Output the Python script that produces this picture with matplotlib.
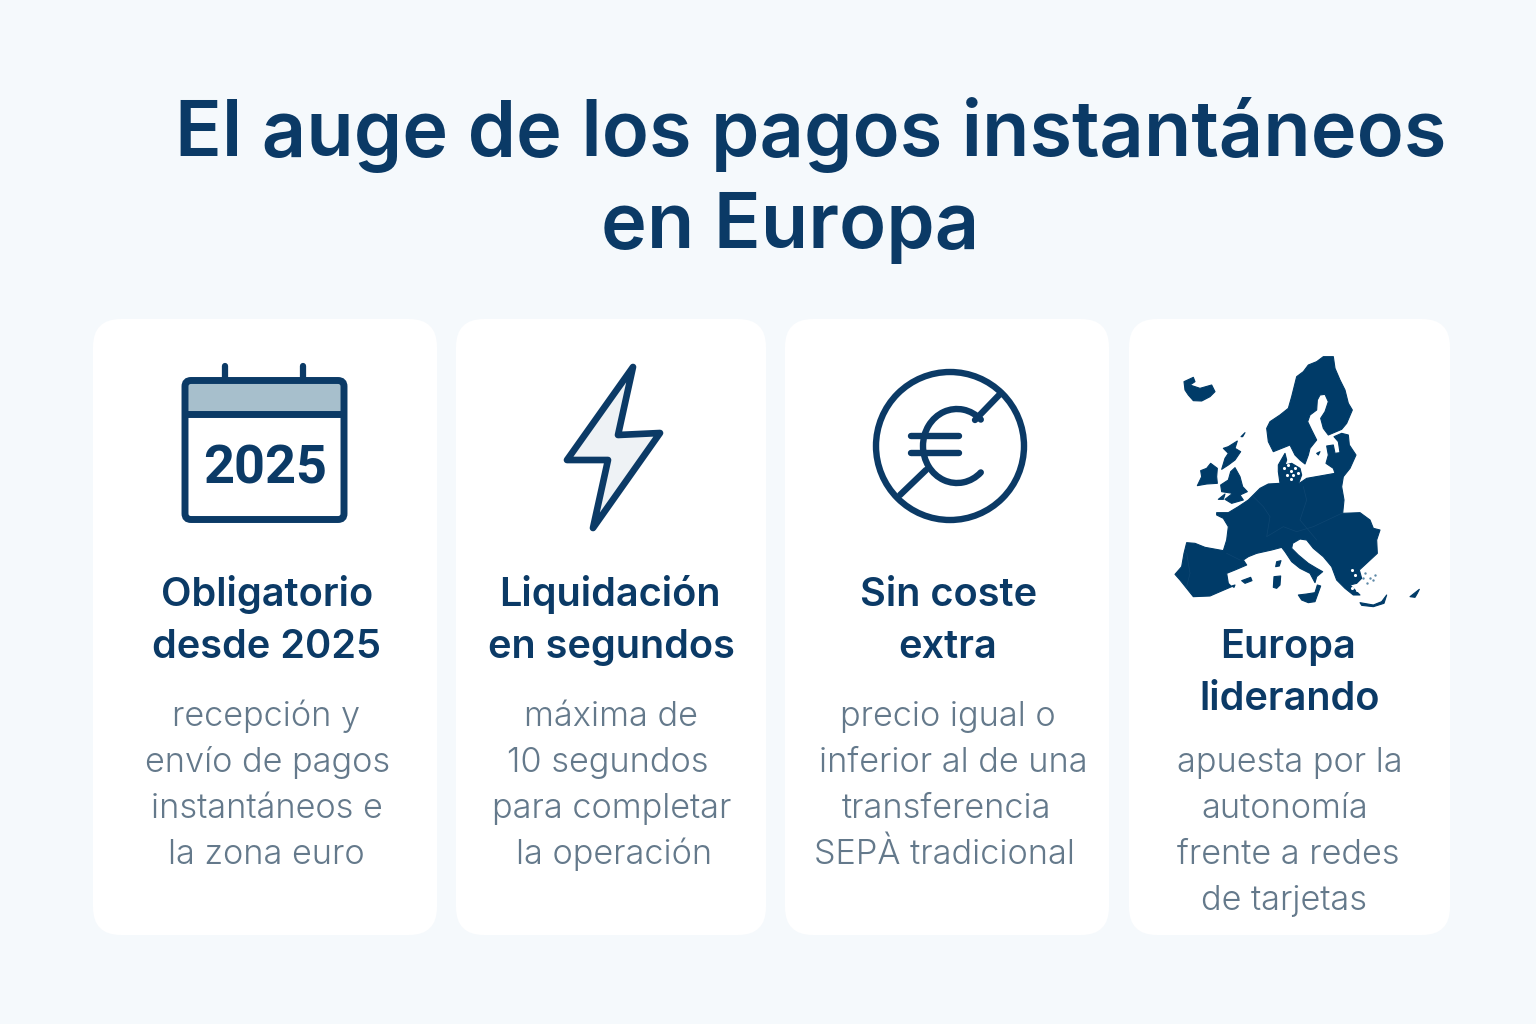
import matplotlib
matplotlib.use("Agg")
import matplotlib.pyplot as plt
from matplotlib.patches import FancyBboxPatch, Polygon, Circle, Arc, Rectangle

NAVY = "#0b3a66"
BG = "#f5f9fc"
GREY = "#64798b"

plt.rcParams["font.family"] = ["Inter", "DejaVu Sans"]

title_lines = ["El auge de los pagos instantáneos", "en Europa"]
title_x = [811, 790]
title_y = [156, 248]

# left, right of each card
card_left = [93, 456, 785, 1129]
card_right = [437, 766, 1109, 1450]

headings = [
    ["Obligatorio", "desde 2025"],
    ["Liquidación", "en segundos"],
    ["Sin coste", "extra"],
    ["Europa", "liderando"],
]
heading_x = [[267, 267], [610, 611], [949, 948], [1288, 1290]]
heading_y = [[606, 658], [606, 658], [606, 658], [658, 710]]

bodies = [
    ["recepción y", "envío de pagos", "instantáneos e", "la zona euro"],
    ["máxima de", "10 segundos", "para completar", "la operación"],
    ["precio igual o", "inferior al de una", "transferencia", "SEPÀ tradicional"],
    ["apuesta por la", "autonomía", "frente a redes", "de tarjetas"],
]
body_x = [
    [266, 268, 267, 266],
    [611, 608, 612, 614],
    [948, 953, 946, 944],
    [1290, 1285, 1288, 1284],
]
body_y = [
    [726, 772, 818, 864],
    [726, 772, 818, 864],
    [726, 772, 818, 864],
    [772, 818, 864, 910],
]

# icon outlines, in reference pixels
bolt = [(633, 367), (618, 435), (660, 433), (593, 528), (608, 460), (567, 460)]

map_land = [
    # scandinavia
    [(320, 265), (330, 245), (360, 225), (385, 205), (395, 170), (405, 130), (410, 110),
     (430, 95), (445, 75), (470, 65), (490, 50), (520, 50), (525, 85), (540, 120), (555, 150),
     (565, 190), (577, 210), (560, 250), (545, 268), (505, 285), (490, 265), (482, 235),
     (495, 215), (505, 185), (495, 163), (480, 165), (472, 180), (470, 210), (450, 225),
     (443, 245), (455, 270), (470, 300), (450, 325), (445, 345), (435, 372), (420, 360),
     (405, 345), (390, 315), (365, 325), (340, 335), (325, 305)],
    # continent
    [(360, 430), (355, 395), (355, 375), (375, 340), (380, 360), (375, 375), (395, 370),
     (420, 385), (425, 405), (415, 432), (440, 415), (480, 408), (525, 400), (520, 385),
     (498, 370), (505, 345), (500, 318), (520, 315), (525, 340), (540, 338), (535, 305),
     (522, 290), (545, 280), (565, 285), (568, 315), (588, 345), (570, 385), (550, 410),
     (545, 440), (552, 480), (548, 520), (600, 518), (630, 540), (640, 565), (660, 570),
     (650, 600), (652, 640), (625, 665), (598, 690), (605, 715), (590, 730), (570, 735),
     (600, 765), (580, 765), (555, 745), (530, 720), (515, 680), (490, 650), (460, 625),
     (440, 600), (420, 597), (398, 610), (395, 625), (415, 645), (445, 670), (470, 685),
     (488, 695), (470, 710), (465, 728), (450, 700), (420, 685), (395, 665), (375, 635),
     (365, 622), (335, 630), (290, 640), (265, 650), (250, 660), (260, 675), (225, 690),
     (200, 700), (205, 730), (215, 740), (180, 755), (150, 768), (100, 770), (80, 745),
     (60, 720), (45, 703), (65, 680), (72, 640), (80, 608), (105, 610), (135, 622),
     (190, 632), (200, 600), (205, 560), (190, 535), (170, 525), (170, 518), (205, 518),
     (235, 500), (265, 480), (300, 445), (325, 432)],
    # iceland
    [(72, 125), (100, 112), (105, 125), (90, 135), (120, 145), (155, 135), (165, 155),
     (150, 170), (125, 183), (100, 182), (85, 165), (75, 150)],
    # ireland and britain
    [(152, 370), (172, 385), (170, 410), (172, 430), (140, 432), (112, 437), (125, 410),
     (122, 392), (140, 385)],
    [(205, 320), (232, 303), (225, 325), (242, 335), (225, 360), (205, 375), (185, 388),
     (195, 355), (205, 340), (190, 325)],
    [(225, 383), (240, 410), (248, 440), (262, 455), (240, 465), (250, 480), (215, 490),
     (195, 478), (218, 460), (185, 455), (182, 435), (205, 420), (212, 395)],
    [(175, 478), (195, 462), (190, 478)],
    [(243, 290), (255, 278), (248, 290)],
    # mediterranean islands
    [(415, 765), (440, 762), (465, 758), (472, 735), (482, 738), (465, 785), (445, 788), (425, 780)],
    [(342, 710), (362, 708), (360, 735), (350, 745), (340, 742)],
    [(350, 665), (363, 662), (358, 678), (347, 680)],
    [(245, 722), (272, 712), (276, 722), (255, 730)],
    [(215, 738), (225, 735), (222, 742)],
    [(600, 788), (640, 795), (665, 785), (680, 765), (672, 790), (640, 800), (605, 796)],
    [(750, 770), (778, 748), (772, 760), (765, 772)],
    [(470, 340), (480, 335), (475, 345)],
]
map_borders = [
    [(280, 470), (310, 500), (330, 530), (320, 590), (370, 560), (410, 575), (460, 560), (545, 520)],
    [(430, 440), (440, 480), (420, 540), (470, 600)],
    [(200, 640), (240, 660)],
    [(80, 640), (90, 700), (80, 740)],
]
map_specks = [(372, 385), (385, 375), (392, 392), (405, 385), (400, 405), (415, 400), (380, 405),
              (392, 418), (575, 690), (585, 705), (575, 745), (590, 750)]
island_specks = [(615, 700), (630, 715), (640, 720), (620, 730), (610, 715), (645, 705)]


def zoom_pt(p):
    return (1160 + p[0] / 3, 340 + p[1] / 3)


fig = plt.figure(figsize=(15.36, 10.24), dpi=100, facecolor=BG)
ax = fig.add_axes([0, 0, 1, 1])
ax.set_xlim(0, 1536)
ax.set_ylim(1024, 0)
ax.axis("off")

for left, right in zip(card_left, card_right):
    r = 28
    ax.add_patch(FancyBboxPatch((left + r, 319 + r), right - left - 2 * r, 616 - 2 * r,
                                boxstyle=f"round,pad={r},rounding_size={r}", fc="white", ec="none"))

# title
for line, x, y in zip(title_lines, title_x, title_y):
    ax.text(x, y, line, ha="center", va="baseline", fontsize=55.8, fontweight=600, color=NAVY)

# card text
for i in range(4):
    for line, x, y in zip(headings[i], heading_x[i], heading_y[i]):
        ax.text(x, y, line, ha="center", va="baseline", fontsize=28.6, fontweight=600, color=NAVY)
    for line, x, y in zip(bodies[i], body_x[i], body_y[i]):
        ax.text(x, y, line, ha="center", va="baseline", fontsize=24.7, fontweight=300, color=GREY)

# calendar
lw = 5
ax.add_patch(Rectangle((187, 384), 156, 28, fc="#a7bfcc", ec="none"))
ax.add_patch(FancyBboxPatch((189, 384.5), 151, 131, boxstyle="round,pad=4,rounding_size=6",
                            fc="none", ec=NAVY, lw=lw))
ax.plot([185, 344], [414, 414], color=NAVY, lw=lw, solid_capstyle="butt")
for x in (225, 303):
    ax.plot([x, x], [366, 378], color=NAVY, lw=4.5, solid_capstyle="round")
ax.text(265, 484, "2025", ha="center", va="baseline", fontsize=39, fontweight=700,
        color=NAVY, family="Roboto")

# lightning bolt
ax.add_patch(Polygon(bolt, closed=True, fc="#eef2f5", ec=NAVY, lw=4.8, joinstyle="round"))

# crossed euro
elw = 4.6
ax.add_patch(Circle((950, 446), 74, fc="none", ec=NAVY, lw=elw))
ax.add_patch(Arc((957, 446), 68, 74, theta1=48, theta2=312, ec=NAVY, lw=elw, capstyle="round"))
for y in (436, 452.5):
    ax.plot([911, 959], [y, y], color=NAVY, lw=elw, solid_capstyle="round")
ax.plot([900, 926], [495, 470], color=NAVY, lw=elw, solid_capstyle="round")
ax.plot([975, 1001], [420, 393], color=NAVY, lw=elw, solid_capstyle="round")

# map
for shape in map_land:
    ax.add_patch(Polygon([zoom_pt(p) for p in shape], closed=True, fc="#003b68", ec="#003b68",
                         lw=0.8, joinstyle="round"))
for border in map_borders:
    bx, by = zip(*[zoom_pt(p) for p in border])
    ax.plot(bx, by, color="#0e4672", lw=0.5)
sx, sy = zip(*[zoom_pt(p) for p in map_specks])
ax.scatter(sx, sy, s=5, c="white", linewidths=0)
ix, iy = zip(*[zoom_pt(p) for p in island_specks])
ax.scatter(ix, iy, s=3, c="#5f8aa8", linewidths=0)

fig.savefig("out.png", dpi=100, facecolor=BG)
